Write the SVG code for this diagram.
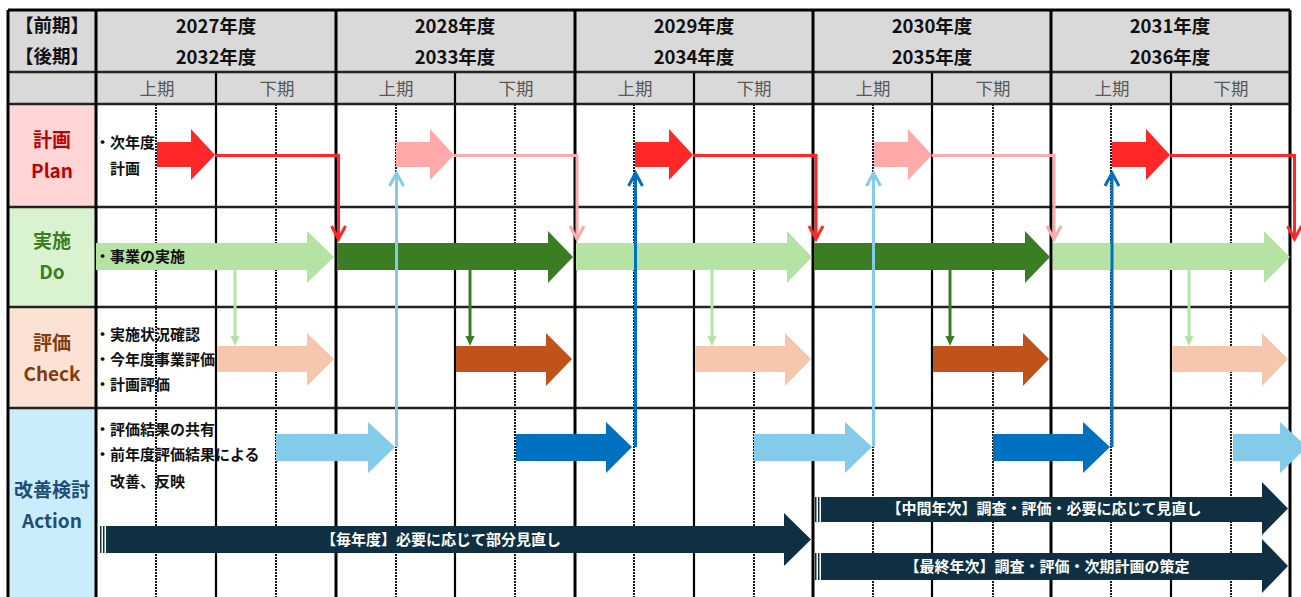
<svg xmlns="http://www.w3.org/2000/svg" width="1301" height="597" viewBox="0 0 1301 597">
<defs>
<style>
.jp{font-family:"Noto Sans CJK JP","Noto Sans",sans-serif;}
.hdr{font-family:"Noto Sans CJK JP","Noto Sans",sans-serif;font-weight:bold;font-size:18.5px;fill:#111;text-anchor:middle;}
.sub{font-family:"Noto Sans CJK JP","Noto Sans",sans-serif;font-size:17.5px;fill:#595959;text-anchor:middle;}
.lbl{font-family:"Noto Sans CJK JP","Noto Sans",sans-serif;font-weight:bold;font-size:19px;text-anchor:middle;}
.cell{font-family:"Noto Sans CJK JP","Noto Sans",sans-serif;font-weight:bold;font-size:15px;fill:#111;}
.bar{font-family:"Noto Sans CJK JP","Noto Sans",sans-serif;font-weight:bold;font-size:15px;fill:#fff;text-anchor:middle;}
.major{stroke:#000;stroke-width:3;fill:none;}
.minor{stroke:#000;stroke-width:2.2;fill:none;}
.hline{stroke:#222;stroke-width:2.6;fill:none;}
.dash{stroke:#000;stroke-width:1.8;stroke-dasharray:2 1;fill:none;}
.conn{fill:none;stroke-width:3;}
.chev{fill:none;stroke-width:3;stroke-linejoin:miter;}
</style>
</defs>
<rect x="0" y="0" width="1301" height="597" fill="#fff"/>
<g id="backgrounds">
<rect x="8" y="10" width="1282" height="94" fill="#d9d9d9"/>
<rect x="8" y="104" width="88" height="103" fill="#ffd5d5"/>
<rect x="8" y="207" width="88" height="100" fill="#d9f2d0"/>
<rect x="8" y="307" width="88" height="101" fill="#fbe2d5"/>
<rect x="8" y="408" width="88" height="189" fill="#caedfb"/>
</g>
<g id="grid">
<path class="dash" d="M156 104V597M276 104V597M396 104V597M515 104V597M634 104V597M754 104V597M873 104V597M993 104V597M1111 104V597M1231 104V597"/>
<path class="minor" d="M216 72V597M455 72V597M694 72V597M932 72V597M1171 72V597"/>
<path class="hline" d="M8 72H1290M8 104H1290M8 207H1290M8 307H1290M8 408H1290"/>
<path class="major" d="M8 10H1290M8 10V597M96 10V597M336 10V597M575 10V597M813 10V597M1051 10V597M1290 10V597"/>
</g>
<g id="header">
<text class="hdr" x="52" y="32" font-size="16.5">【前期】</text>
<text class="hdr" x="52" y="63" font-size="16.5">【後期】</text>
<text class="hdr" x="216" y="33">2027年度</text><text class="hdr" x="216" y="64">2032年度</text>
<text class="hdr" x="455" y="33">2028年度</text><text class="hdr" x="455" y="64">2033年度</text>
<text class="hdr" x="694" y="33">2029年度</text><text class="hdr" x="694" y="64">2034年度</text>
<text class="hdr" x="932" y="33">2030年度</text><text class="hdr" x="932" y="64">2035年度</text>
<text class="hdr" x="1170" y="33">2031年度</text><text class="hdr" x="1170" y="64">2036年度</text>
<text class="sub" x="157" y="94.5">上期</text><text class="sub" x="277" y="94.5">下期</text>
<text class="sub" x="396" y="94.5">上期</text><text class="sub" x="516" y="94.5">下期</text>
<text class="sub" x="635" y="94.5">上期</text><text class="sub" x="754" y="94.5">下期</text>
<text class="sub" x="873" y="94.5">上期</text><text class="sub" x="993" y="94.5">下期</text>
<text class="sub" x="1112" y="94.5">上期</text><text class="sub" x="1231" y="94.5">下期</text>
</g>
<g id="row-plan">
<text class="lbl" x="52" y="147" fill="#c00000">計画</text>
<text class="lbl" x="52" y="178" fill="#c00000">Plan</text>
<text class="cell" x="95" y="148">・次年度</text>
<text class="cell" x="110" y="173.5">計画</text>
</g>
<g id="row-do">
<text class="lbl" x="52" y="248" fill="#3a7d22">実施</text>
<text class="lbl" x="52" y="279" fill="#3a7d22">Do</text>
</g>
<g id="row-check">
<text class="lbl" x="52" y="350" fill="#843c0c">評価</text>
<text class="lbl" x="52" y="381" fill="#843c0c">Check</text>
</g>
<g id="row-action">
<text class="lbl" x="52" y="497" fill="#1f4e79">改善検討</text>
<text class="lbl" x="52" y="528" fill="#1f4e79">Action</text>
</g>
<g id="connectors">
<path d="M157 142H191V129L215 155L191 180V167H157Z" fill="#ff2727"/>
<path d="M396 142H430V129L454 155L430 180V167H396Z" fill="#ffaaaa"/>
<path d="M635 142H669V129L693 155L669 180V167H635Z" fill="#ff2727"/>
<path d="M874 142H908V129L932 155L908 180V167H874Z" fill="#ffaaaa"/>
<path d="M1112 142H1146V129L1170 155L1146 180V167H1112Z" fill="#ff2727"/>
<path class="conn" stroke="#ff2727" d="M215 155.5H338.5V239"/>
<path class="chev" stroke="#ff2727" d="M331.5 226L338.5 239L345.5 226"/>
<path class="conn" stroke="#ffaaaa" d="M454 155.5H577V239"/>
<path class="chev" stroke="#ffaaaa" d="M570 226L577 239L584 226"/>
<path class="conn" stroke="#ff2727" d="M693 155.5H816V239"/>
<path class="chev" stroke="#ff2727" d="M809 226L816 239L823 226"/>
<path class="conn" stroke="#ffaaaa" d="M932 155.5H1054V239"/>
<path class="chev" stroke="#ffaaaa" d="M1047 226L1054 239L1061 226"/>
<path class="conn" stroke="#ff2727" d="M1170 155.5H1294.5V239"/>
<path class="chev" stroke="#ff2727" d="M1287.5 226L1294.5 239L1301.5 226"/>
<path d="M96 243H307V231L334 257L307 283V270H96Z" fill="#b4e3a4"/>
<path d="M337 243H548V231L573 257L548 283V270H337Z" fill="#3b7d23"/>
<path d="M576 243H787V231L812 257L787 283V270H576Z" fill="#b4e3a4"/>
<path d="M814 243H1025V231L1050 257L1025 283V270H814Z" fill="#3b7d23"/>
<path d="M1053 243H1264V231L1290 257L1264 283V270H1053Z" fill="#b4e3a4"/>
<path class="conn" stroke="#b4e3a4" stroke-width="2" d="M235 270V337"/><path d="M230.5 336H239.5L235 346Z" fill="#b4e3a4"/>
<path class="conn" stroke="#3b7d23" stroke-width="2" d="M470 270V337"/><path d="M465.5 336H474.5L470 346Z" fill="#3b7d23"/>
<path class="conn" stroke="#b4e3a4" stroke-width="2" d="M712 270V337"/><path d="M707.5 336H716.5L712 346Z" fill="#b4e3a4"/>
<path class="conn" stroke="#3b7d23" stroke-width="2" d="M950 270V337"/><path d="M945.5 336H954.5L950 346Z" fill="#3b7d23"/>
<path class="conn" stroke="#b4e3a4" stroke-width="2" d="M1189 270V337"/><path d="M1184.5 336H1193.5L1189 346Z" fill="#b4e3a4"/>
<path d="M217 346H307V333L334 359L307 386V372H217Z" fill="#f6c6ad"/>
<path d="M456 346H546V333L572 359L546 386V372H456Z" fill="#c0531a"/>
<path d="M695 346H785V333L811 359L785 386V372H695Z" fill="#f6c6ad"/>
<path d="M933 346H1023V333L1049 359L1023 386V372H933Z" fill="#c0531a"/>
<path d="M1172 346H1262V333L1288 359L1262 386V372H1172Z" fill="#f6c6ad"/>
<path d="M276 434H368V422L395 447L368 473V461H276Z" fill="#84cbea"/>
<path d="M516 434H606V422L632 447L606 473V461H516Z" fill="#0070c0"/>
<path d="M754 434H845V422L872 447L845 473V461H754Z" fill="#84cbea"/>
<path d="M993 434H1083V422L1110 447L1083 473V461H993Z" fill="#0070c0"/>
<path d="M1233 434H1280V422L1307 447L1280 473V461H1233Z" fill="#84cbea"/>
<path class="conn" stroke="#84cbea" d="M396.5 447V173"/><path class="chev" stroke="#84cbea" d="M389.5 186L396.5 173L403.5 186"/>
<path class="conn" stroke="#0070c0" d="M635.5 447V173"/><path class="chev" stroke="#0070c0" d="M628.5 186L635.5 173L642.5 186"/>
<path class="conn" stroke="#84cbea" d="M873.5 447V173"/><path class="chev" stroke="#84cbea" d="M866.5 186L873.5 173L880.5 186"/>
<path class="conn" stroke="#0070c0" d="M1112 447V173"/><path class="chev" stroke="#0070c0" d="M1105 186L1112 173L1119 186"/>
<rect x="100" y="526" width="1.5" height="27" fill="#0e3042"/><rect x="103" y="526" width="1.5" height="27" fill="#0e3042"/>
<path d="M106 526H784V513L811 539.5L784 566V553H106Z" fill="#0e3042"/>
<rect x="815" y="497" width="1.5" height="25" fill="#0e3042"/><rect x="818" y="497" width="1.5" height="25" fill="#0e3042"/>
<path d="M821 497H1262V482L1288 508.5L1262 535V522H821Z" fill="#0e3042"/>
<rect x="815" y="553" width="1.5" height="27" fill="#0e3042"/><rect x="818" y="553" width="1.5" height="27" fill="#0e3042"/>
<path d="M821 553H1262V539L1288 566L1262 593V580H821Z" fill="#0e3042"/>
</g>
<g id="labels">
<text class="cell" x="95" y="262">・事業の実施</text>
<text class="cell" x="95" y="340">・実施状況確認</text>
<text class="cell" x="95" y="365">・今年度事業評価</text>
<text class="cell" x="95" y="390">・計画評価</text>
<text class="cell" x="95" y="435">・評価結果の共有</text>
<text class="cell" x="95" y="460">・前年度評価結果による</text>
<text class="cell" x="110" y="487">改善、反映</text>
<text class="bar" x="441" y="544.5">【毎年度】必要に応じて部分見直し</text>
<text class="bar" x="1044" y="513.5">【中間年次】調査・評価・必要に応じて見直し</text>
<text class="bar" x="1047" y="571.5">【最終年次】調査・評価・次期計画の策定</text>
</g>
</svg>
